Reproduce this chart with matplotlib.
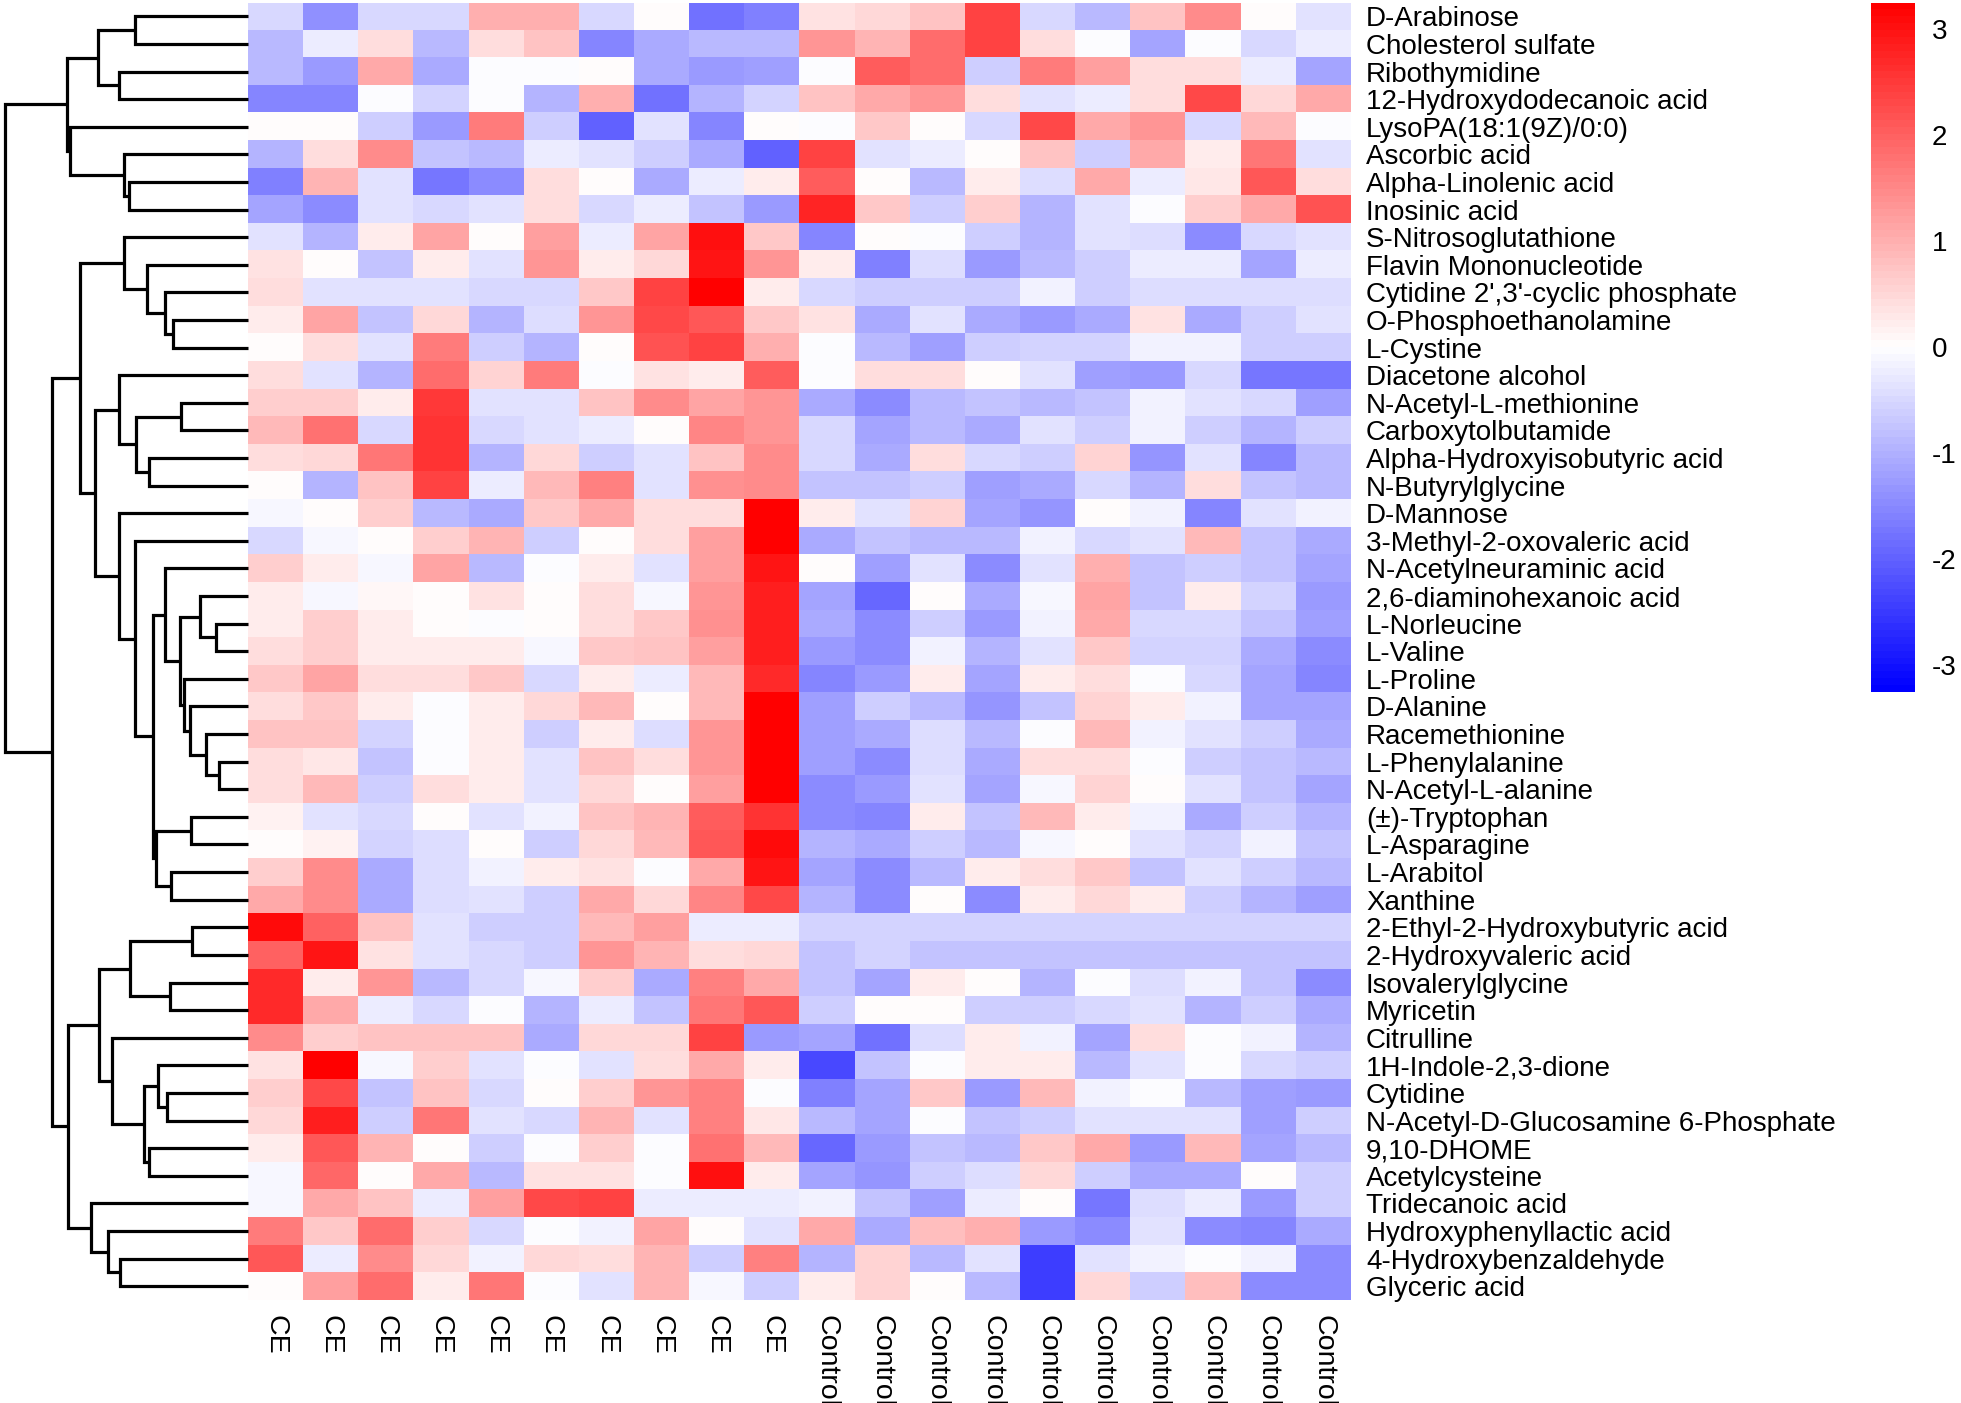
import numpy as np
import matplotlib
matplotlib.use('Agg')
import matplotlib.pyplot as plt
from matplotlib.colors import LinearSegmentedColormap

plt.rcParams['font.family'] = ['Liberation Sans', 'DejaVu Sans']
plt.rcParams['axes.unicode_minus'] = False

metabolites = [
    "D-Arabinose", "Cholesterol sulfate", "Ribothymidine", "12-Hydroxydodecanoic acid",
    "LysoPA(18:1(9Z)/0:0)", "Ascorbic acid", "Alpha-Linolenic acid", "Inosinic acid",
    "S-Nitrosoglutathione", "Flavin Mononucleotide", "Cytidine 2',3'-cyclic phosphate",
    "O-Phosphoethanolamine", "L-Cystine", "Diacetone alcohol", "N-Acetyl-L-methionine",
    "Carboxytolbutamide", "Alpha-Hydroxyisobutyric acid", "N-Butyrylglycine", "D-Mannose",
    "3-Methyl-2-oxovaleric acid", "N-Acetylneuraminic acid", "2,6-diaminohexanoic acid",
    "L-Norleucine", "L-Valine", "L-Proline", "D-Alanine", "Racemethionine", "L-Phenylalanine",
    "N-Acetyl-L-alanine", "(±)-Tryptophan", "L-Asparagine", "L-Arabitol", "Xanthine",
    "2-Ethyl-2-Hydroxybutyric acid", "2-Hydroxyvaleric acid", "Isovalerylglycine", "Myricetin",
    "Citrulline", "1H-Indole-2,3-dione", "Cytidine", "N-Acetyl-D-Glucosamine 6-Phosphate",
    "9,10-DHOME", "Acetylcysteine", "Tridecanoic acid", "Hydroxyphenyllactic acid",
    "4-Hydroxybenzaldehyde", "Glyceric acid",
]
samples = ["CE"] * 10 + ["Control"] * 10

# scaled abundance, CE samples
ce_vals = [
    [-0.5, -1.4, -0.5, -0.5, 1.0, 1.0, -0.5, 0.05, -1.8, -1.6],
    [-0.9, -0.2, 0.45, -0.9, 0.45, 0.75, -1.5, -1.1, -0.9, -0.9],
    [-0.9, -1.3, 1.1, -1.1, -0.05, -0.05, 0.03, -1.05, -1.3, -1.2],
    [-1.5, -1.5, -0.05, -0.55, -0.05, -0.95, 1.0, -1.8, -0.95, -0.55],
    [0.03, 0.03, -0.6, -1.3, 1.65, -0.65, -2.0, -0.35, -1.55, 0.03],
    [-0.95, 0.4, 1.45, -0.75, -0.9, -0.2, -0.35, -0.65, -1.1, -2.0],
    [-1.6, 0.95, -0.35, -1.7, -1.45, 0.4, 0.03, -1.1, -0.2, 0.2],
    [-1.15, -1.45, -0.35, -0.5, -0.35, 0.4, -0.5, -0.2, -0.75, -1.25],
    [-0.35, -0.95, 0.25, 1.15, 0.03, 1.2, -0.2, 1.15, 3.0, 0.65],
    [0.35, 0.02, -0.75, 0.2, -0.35, 1.35, 0.2, 0.5, 2.95, 1.35],
    [0.45, -0.35, -0.35, -0.35, -0.5, -0.5, 0.65, 2.4, 3.2, 0.25],
    [0.2, 1.15, -0.75, 0.5, -0.95, -0.45, 1.35, 2.3, 2.1, 0.65],
    [0.05, 0.4, -0.35, 1.65, -0.6, -0.95, 0.05, 2.2, 2.4, 1.0],
    [0.45, -0.35, -0.95, 1.85, 0.55, 1.65, -0.05, 0.35, 0.2, 2.05],
    [0.6, 0.6, 0.2, 2.5, -0.35, -0.35, 0.75, 1.45, 1.15, 1.35],
    [0.85, 1.8, -0.5, 2.6, -0.5, -0.35, -0.2, 0.02, 1.5, 1.35],
    [0.4, 0.5, 1.7, 2.6, -0.95, 0.5, -0.6, -0.35, 0.75, 1.45],
    [0.03, -0.95, 0.75, 2.4, -0.2, 0.85, 1.6, -0.35, 1.4, 1.45],
    [-0.07, 0.03, 0.6, -0.9, -1.1, 0.65, 1.1, 0.4, 0.45, 3.25],
    [-0.5, -0.1, 0.05, 0.6, 0.95, -0.6, 0.05, 0.45, 1.2, 3.25],
    [0.6, 0.2, -0.07, 1.15, -0.9, -0.05, 0.2, -0.35, 1.2, 2.95],
    [0.2, -0.07, 0.08, 0.05, 0.35, 0.05, 0.4, -0.07, 1.35, 2.85],
    [0.2, 0.6, 0.2, 0.05, -0.05, 0.05, 0.4, 0.7, 1.4, 2.85],
    [0.45, 0.6, 0.2, 0.2, 0.2, -0.1, 0.65, 0.75, 1.2, 2.8],
    [0.7, 1.15, 0.4, 0.4, 0.65, -0.5, 0.2, -0.2, 0.9, 2.7],
    [0.45, 0.7, 0.2, -0.05, 0.2, 0.5, 0.85, 0.03, 0.9, 3.2],
    [0.75, 0.75, -0.55, -0.05, 0.2, -0.6, 0.2, -0.45, 1.3, 3.25],
    [0.45, 0.3, -0.75, -0.05, 0.2, -0.35, 0.75, 0.4, 1.3, 3.25],
    [0.45, 0.85, -0.6, 0.45, 0.2, -0.35, 0.5, 0.03, 1.2, 3.25],
    [0.18, -0.35, -0.5, 0.03, -0.35, -0.15, 0.75, 0.95, 2.05, 2.6],
    [0.03, 0.18, -0.55, -0.45, 0.05, -0.6, 0.5, 0.85, 2.1, 3.1],
    [0.6, 1.45, -1.05, -0.45, -0.15, 0.2, 0.35, -0.05, 1.1, 2.95],
    [1.1, 1.45, -1.05, -0.45, -0.35, -0.6, 1.1, 0.5, 1.5, 2.3],
    [3.1, 2.0, 0.75, -0.35, -0.6, -0.6, 0.85, 1.2, -0.2, -0.2],
    [2.0, 2.95, 0.35, -0.35, -0.5, -0.6, 1.35, 0.95, 0.4, 0.5],
    [2.7, 0.2, 1.3, -0.9, -0.5, -0.07, 0.6, -1.05, 1.6, 1.1],
    [2.7, 1.1, -0.2, -0.5, -0.05, -0.95, -0.2, -0.75, 1.7, 2.1],
    [1.45, 0.6, 0.75, 0.75, 0.75, -1.1, 0.5, 0.5, 2.35, -1.3],
    [0.35, 3.25, -0.07, 0.6, -0.35, -0.05, -0.35, 0.4, 1.1, 0.2],
    [0.6, 2.3, -0.75, 0.75, -0.5, 0.03, 0.6, 1.35, 1.6, -0.05],
    [0.5, 2.85, -0.6, 1.7, -0.35, -0.5, 0.95, -0.35, 1.6, 0.3],
    [0.2, 2.1, 0.95, 0.03, -0.65, -0.05, 0.6, -0.05, 1.8, 0.85],
    [-0.07, 1.9, 0.05, 1.1, -0.85, 0.35, 0.35, -0.05, 3.0, 0.2],
    [-0.07, 1.1, 0.75, -0.2, 1.2, 2.3, 2.35, -0.2, -0.2, -0.2],
    [1.65, 0.65, 1.85, 0.6, -0.5, -0.05, -0.15, 1.15, 0.05, -0.35],
    [2.1, -0.2, 1.45, 0.5, -0.15, 0.5, 0.45, 0.95, -0.6, 1.6],
    [0.05, 1.2, 1.85, 0.25, 1.7, -0.05, -0.35, 0.95, -0.07, -0.6],
]

# scaled abundance, Control samples
ctrl_vals = [
    [0.35, 0.5, 0.75, 2.35, -0.5, -0.9, 0.75, 1.45, 0.05, -0.35],
    [1.3, 0.95, 1.85, 2.35, 0.4, -0.05, -1.15, -0.05, -0.5, -0.2],
    [-0.05, 2.05, 1.85, -0.6, 1.65, 1.2, 0.45, 0.45, -0.2, -1.15],
    [0.75, 1.1, 1.3, 0.45, -0.35, -0.2, 0.4, 2.3, 0.5, 1.1],
    [-0.05, 0.7, 0.03, -0.5, 2.3, 1.1, 1.3, -0.5, 0.9, -0.05],
    [2.35, -0.35, -0.2, 0.05, 0.75, -0.6, 1.1, 0.2, 1.7, -0.35],
    [2.05, 0.03, -0.9, 0.2, -0.45, 1.1, -0.2, 0.3, 2.1, 0.45],
    [2.75, 0.65, -0.6, 0.6, -0.95, -0.35, -0.05, 0.6, 1.1, 2.2],
    [-1.55, 0.03, -0.05, -0.6, -0.95, -0.35, -0.45, -1.45, -0.5, -0.35],
    [0.2, -1.6, -0.45, -1.25, -0.85, -0.6, -0.2, -0.2, -1.15, -0.2],
    [-0.5, -0.6, -0.6, -0.6, -0.15, -0.6, -0.45, -0.45, -0.45, -0.45],
    [0.35, -1.1, -0.35, -1.05, -1.25, -1.05, 0.35, -1.05, -0.6, -0.35],
    [-0.05, -0.9, -1.2, -0.65, -0.55, -0.55, -0.15, -0.15, -0.65, -0.65],
    [-0.05, 0.45, 0.45, 0.05, -0.35, -1.2, -1.3, -0.5, -1.7, -1.7],
    [-1.1, -1.45, -0.9, -0.75, -0.9, -0.75, -0.15, -0.35, -0.5, -1.2],
    [-0.5, -1.15, -0.9, -1.05, -0.35, -0.6, -0.15, -0.6, -0.95, -0.6],
    [-0.5, -1.05, 0.4, -0.5, -0.6, 0.55, -1.35, -0.35, -1.55, -0.9],
    [-0.75, -0.75, -0.6, -1.2, -1.1, -0.5, -0.95, 0.4, -0.75, -0.9],
    [0.2, -0.35, 0.55, -1.15, -1.35, 0.03, -0.15, -1.55, -0.35, -0.15],
    [-1.1, -0.75, -0.9, -0.9, -0.15, -0.5, -0.35, 0.9, -0.75, -1.1],
    [0.05, -1.2, -0.35, -1.45, -0.35, 1.0, -0.75, -0.65, -0.75, -1.15],
    [-1.15, -1.95, 0.05, -1.1, -0.07, 1.15, -0.75, 0.2, -0.55, -1.25],
    [-1.05, -1.45, -0.6, -1.25, -0.15, 1.1, -0.5, -0.5, -0.75, -1.2],
    [-1.3, -1.45, -0.15, -0.95, -0.35, 0.65, -0.55, -0.55, -1.05, -1.45],
    [-1.55, -1.3, 0.2, -1.15, 0.2, 0.4, -0.05, -0.5, -1.15, -1.55],
    [-1.2, -0.65, -0.9, -1.35, -0.75, 0.55, 0.2, -0.15, -1.15, -1.15],
    [-1.2, -1.05, -0.45, -0.9, -0.05, 0.9, -0.15, -0.35, -0.6, -1.05],
    [-1.2, -1.45, -0.45, -1.05, 0.4, 0.4, -0.05, -0.6, -0.75, -0.9],
    [-1.45, -1.25, -0.35, -1.15, -0.07, 0.55, 0.03, -0.35, -0.75, -1.15],
    [-1.45, -1.55, 0.2, -0.75, 0.85, 0.25, -0.15, -1.1, -0.6, -0.95],
    [-0.95, -1.1, -0.6, -0.9, -0.07, 0.03, -0.35, -0.55, -0.15, -0.75],
    [-1.15, -1.45, -0.9, 0.2, 0.4, 0.65, -0.75, -0.35, -0.6, -0.9],
    [-0.95, -1.45, 0.03, -1.45, 0.25, 0.5, 0.2, -0.6, -0.95, -1.2],
    [-0.55, -0.55, -0.55, -0.55, -0.55, -0.55, -0.55, -0.55, -0.55, -0.55],
    [-0.75, -0.55, -0.75, -0.75, -0.75, -0.75, -0.75, -0.75, -0.75, -0.75],
    [-0.75, -1.15, 0.2, 0.05, -0.95, -0.05, -0.45, -0.15, -0.75, -1.45],
    [-0.65, 0.03, 0.05, -0.6, -0.6, -0.5, -0.35, -0.95, -0.6, -1.1],
    [-1.15, -1.8, -0.45, 0.2, -0.15, -1.15, 0.4, -0.05, -0.15, -0.95],
    [-2.3, -0.75, -0.05, 0.2, 0.2, -0.9, -0.35, -0.05, -0.5, -0.6],
    [-1.6, -1.15, 0.65, -1.3, 0.85, -0.15, -0.05, -0.9, -1.2, -1.3],
    [-0.9, -1.15, -0.05, -0.75, -0.6, -0.35, -0.35, -0.35, -1.2, -0.6],
    [-1.95, -1.3, -0.75, -0.9, 0.65, 1.1, -1.3, 0.85, -1.15, -0.85],
    [-1.15, -1.35, -0.6, -0.45, 0.5, -0.6, -1.05, -1.05, 0.03, -0.6],
    [-0.15, -0.75, -1.2, -0.2, 0.03, -1.7, -0.45, -0.2, -1.3, -0.6],
    [1.1, -1.05, 0.8, 1.0, -1.3, -1.45, -0.35, -1.45, -1.55, -1.05],
    [-0.95, 0.55, -0.9, -0.35, -2.45, -0.35, -0.15, -0.05, -0.15, -1.45],
    [0.2, 0.55, 0.03, -0.9, -2.45, 0.5, -0.6, 0.8, -1.45, -1.45],
]

# row dendrogram: (left, right, height); ids >= 47 are earlier merges (47 + index)
merges = [
    (27, 28, 28.7), (22, 23, 32.0), (26, 47, 41.3), (21, 48, 48.0), (33, 34, 55.7),
    (29, 30, 57.0), (25, 49, 58.0), (24, 53, 64.0), (14, 15, 66.3), (50, 54, 68.0),
    (11, 12, 74.7), (31, 32, 76.3), (35, 36, 77.3), (39, 40, 80.7), (10, 57, 82.3),
    (20, 56, 82.3), (38, 60, 89.7), (52, 58, 91.3), (62, 64, 94.7), (16, 17, 98.7),
    (41, 42, 98.7), (9, 61, 100.7), (63, 67, 104.0), (55, 66, 111.3), (19, 65, 113.0),
    (0, 1, 113.0), (51, 59, 118.0), (6, 7, 119.0), (5, 74, 124.0), (8, 68, 124.0),
    (45, 46, 127.3), (2, 3, 128.7), (13, 70, 128.7), (18, 71, 128.7), (37, 69, 135.3),
    (44, 77, 139.7), (73, 81, 149.0), (72, 78, 149.7), (79, 80, 152.3), (43, 82, 156.3),
    (76, 85, 167.3), (4, 75, 177.3), (83, 86, 179.7), (84, 88, 180.7), (87, 89, 195.7),
    (90, 91, 243.0),
]

values = np.hstack([np.array(ce_vals), np.array(ctrl_vals)])
n_rows, n_cols = values.shape

W, H = 1961, 1403
fig = plt.figure(figsize=(W / 100, H / 100), dpi=100)

hm_left, hm_right, hm_top, hm_bottom = 247.6, 1350.6, 2.5, 1300.0
ax = fig.add_axes([hm_left / W, 1 - hm_bottom / H, (hm_right - hm_left) / W, (hm_bottom - hm_top) / H])
cmap = LinearSegmentedColormap.from_list('bwr100', ['#0000ff', '#ffffff', '#ff0000'], N=100)
im = ax.imshow(values, cmap=cmap, vmin=-3.25, vmax=3.25, aspect='auto',
               interpolation='nearest', extent=(0, n_cols, n_rows, 0))
for s in ax.spines.values():
    s.set_visible(False)
ax.yaxis.tick_right()
ax.set_yticks(np.arange(n_rows) + 0.5)
ax.set_yticklabels(metabolites, fontsize=20)
ax.set_xticks(np.arange(n_cols) + 0.5)
ax.set_xticklabels(samples, fontsize=20.5, rotation=270)
ax.tick_params(length=0)
ax.tick_params(axis='y', pad=11)
ax.tick_params(axis='x', pad=11)

# dendrogram on the left
axd = fig.add_axes([0, 1 - hm_bottom / H, hm_left / W, (hm_bottom - hm_top) / H])
pos = {i: i + 0.5 for i in range(n_rows)}
hgt = {i: 0.0 for i in range(n_rows)}
for k, (a, b, h) in enumerate(merges):
    axd.plot([hgt[a], h, h, hgt[b]], [pos[a], pos[a], pos[b], pos[b]],
             color='black', lw=2.3, solid_capstyle='butt', solid_joinstyle='miter', clip_on=False)
    pos[n_rows + k] = (pos[a] + pos[b]) / 2
    hgt[n_rows + k] = h
axd.set_xlim(hm_left, 0)
axd.set_ylim(n_rows, 0)
axd.axis('off')

# colour legend
cax = fig.add_axes([1871 / W, 1 - 692 / H, 44 / W, (692 - 2.5) / H])
cb = fig.colorbar(im, cax=cax, ticks=range(-3, 4))
cb.outline.set_visible(False)
cax.tick_params(length=0, pad=12, labelsize=20)

fig.savefig('out.png', dpi=100)
